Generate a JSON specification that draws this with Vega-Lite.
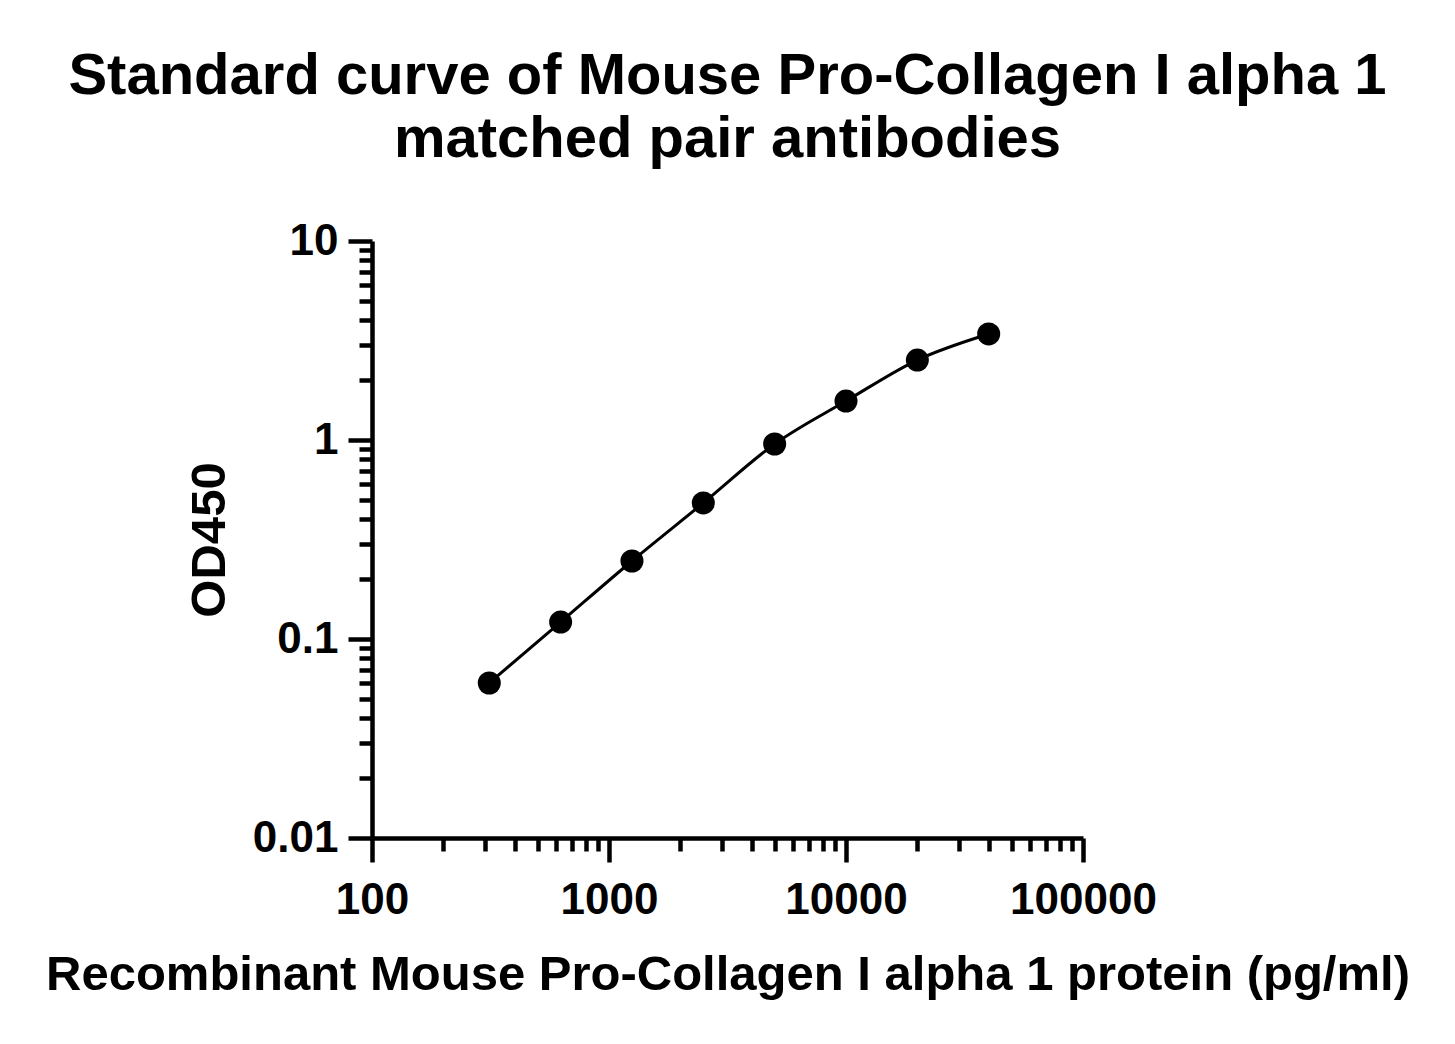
{
  "$schema": "https://vega.github.io/schema/vega-lite/v6.json",
  "autosize": {"type": "none"},
  "padding": {"left": 372, "top": 241, "right": 372, "bottom": 206},
  "width": 711,
  "height": 597,
  "background": "white",
  "title": {
    "text": ["Standard curve of Mouse Pro-Collagen I alpha 1", "matched pair antibodies"],
    "font": "Liberation Sans",
    "fontSize": 58,
    "fontWeight": "bold",
    "color": "black",
    "anchor": "middle",
    "lineHeight": 63,
    "offset": 50
  },
  "config": {
    "view": {"stroke": null},
    "font": "Liberation Sans",
    "axis": {
      "grid": false,
      "domainColor": "black",
      "domainWidth": 4.5,
      "tickColor": "black",
      "tickWidth": 4.5,
      "labelColor": "black",
      "labelFont": "Liberation Sans",
      "labelFontWeight": "bold",
      "labelFontSize": 44,
      "titleFont": "Liberation Sans",
      "titleFontWeight": "bold",
      "titleFontSize": 49,
      "titleColor": "black"
    }
  },
  "data": {
    "values": [
      {"conc": 312.5, "od": 0.0601},
      {"conc": 625, "od": 0.1217},
      {"conc": 1250, "od": 0.2466},
      {"conc": 2500, "od": 0.4826},
      {"conc": 5000, "od": 0.9548},
      {"conc": 10000, "od": 1.57},
      {"conc": 20000, "od": 2.523},
      {"conc": 40000, "od": 3.41}
    ]
  },
  "layer": [
    {
      "mark": {"type": "line", "interpolate": "monotone", "color": "black", "strokeWidth": 3},
      "encoding": {
        "x": {
          "field": "conc", "type": "quantitative",
          "scale": {"type": "log", "domain": [100, 100000], "nice": false},
          "axis": {
            "orient": "bottom",
            "title": "Recombinant Mouse Pro-Collagen I alpha 1 protein (pg/ml)",
            "values": [100, 1000, 10000, 100000],
            "format": "d",
            "tickSize": 24,
            "tickWidth": 4.5,
            "domainWidth": 4.5,
            "labelPadding": 16,
            "titlePadding": 28,
            "labelFlush": false,
            "labelOverlap": false
          }
        },
        "y": {
          "field": "od", "type": "quantitative",
          "scale": {"type": "log", "domain": [0.01, 10], "nice": false},
          "axis": {
            "orient": "left",
            "title": "OD450",
            "values": [0.01, 0.1, 1, 10],
            "format": "~g",
            "tickSize": 24,
            "tickWidth": 4.5,
            "domainWidth": 4.5,
            "labelPadding": 10,
            "titlePadding": 18,
            "labelFlush": false,
            "labelOverlap": false
          }
        }
      }
    },
    {
      "mark": {"type": "circle", "color": "black", "opacity": 1, "size": 530},
      "encoding": {
        "x": {
          "field": "conc", "type": "quantitative",
          "scale": {"type": "log", "domain": [100, 100000], "nice": false},
          "axis": {
            "orient": "bottom",
            "title": null,
            "domain": false,
            "labels": false,
            "tickSize": 13,
            "tickWidth": 4.5,
            "values": [200, 300, 400, 500, 600, 700, 800, 900, 2000, 3000, 4000, 5000, 6000, 7000, 8000, 9000, 20000, 30000, 40000, 50000, 60000, 70000, 80000, 90000]
          }
        },
        "y": {
          "field": "od", "type": "quantitative",
          "scale": {"type": "log", "domain": [0.01, 10], "nice": false},
          "axis": {
            "orient": "left",
            "title": null,
            "domain": false,
            "labels": false,
            "tickSize": 13,
            "tickWidth": 4.5,
            "values": [0.02, 0.03, 0.04, 0.05, 0.06, 0.07, 0.08, 0.09, 0.2, 0.3, 0.4, 0.5, 0.6, 0.7, 0.8, 0.9, 2, 3, 4, 5, 6, 7, 8, 9]
          }
        }
      }
    }
  ],
  "resolve": {"axis": {"x": "independent", "y": "independent"}}
}
